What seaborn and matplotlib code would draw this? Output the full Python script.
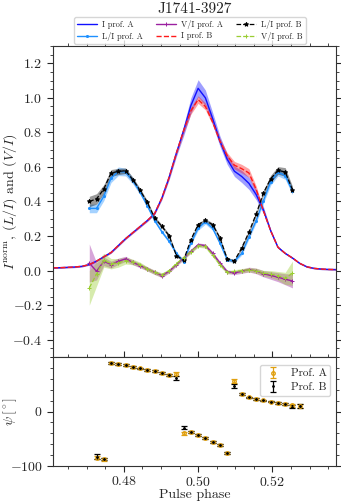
import numpy as np
import pandas as pd
import matplotlib
matplotlib.use("Agg")
import matplotlib.pyplot as plt
import seaborn as sns
from matplotlib.ticker import MultipleLocator, FixedLocator

# ---------------- data ----------------
# phase bins (1/512 of a turn)
bins_I = [236, 237, 238, 239, 240, 241, 242, 243, 244, 245, 246, 247, 248, 249,
          250, 251, 252, 253, 254, 255, 256, 257, 258, 259, 260, 261, 262, 263,
          264, 265, 266, 267, 268, 269, 270, 271, 272, 273, 274, 275]
I_A = [0.016, 0.017, 0.019, 0.021, 0.025, 0.035, 0.055, 0.080, 0.105, 0.145,
       0.185, 0.220, 0.255, 0.290, 0.330, 0.420, 0.540, 0.680, 0.810, 0.955,
       1.055, 1.000, 0.880, 0.750, 0.645, 0.575, 0.545, 0.505, 0.440, 0.350,
       0.230, 0.135, 0.100, 0.073, 0.042, 0.022, 0.013, 0.009, 0.007, 0.006]
I_A_err = [0.004, 0.004, 0.004, 0.004, 0.004, 0.004, 0.004, 0.004, 0.005, 0.005,
           0.005, 0.005, 0.006, 0.006, 0.007, 0.010, 0.015, 0.020, 0.030, 0.045,
           0.050, 0.045, 0.035, 0.030, 0.030, 0.030, 0.035, 0.035, 0.030, 0.020,
           0.010, 0.006, 0.005, 0.005, 0.004, 0.004, 0.004, 0.004, 0.004, 0.004]
I_B = [0.016, 0.017, 0.019, 0.021, 0.025, 0.035, 0.055, 0.080, 0.105, 0.145,
       0.185, 0.220, 0.255, 0.290, 0.330, 0.420, 0.540, 0.680, 0.810, 0.925,
       0.990, 0.950, 0.860, 0.750, 0.665, 0.610, 0.590, 0.565, 0.470, 0.345,
       0.230, 0.135, 0.100, 0.073, 0.042, 0.022, 0.013, 0.009, 0.007, 0.006]
I_B_err = [0.003, 0.003, 0.003, 0.003, 0.003, 0.003, 0.003, 0.003, 0.004, 0.004,
           0.004, 0.004, 0.004, 0.005, 0.005, 0.007, 0.010, 0.012, 0.015, 0.020,
           0.022, 0.020, 0.018, 0.016, 0.018, 0.022, 0.025, 0.025, 0.020, 0.012,
           0.007, 0.005, 0.004, 0.004, 0.003, 0.003, 0.003, 0.003, 0.003, 0.003]

bins_pol = [241, 242, 243, 244, 245, 246, 247, 248, 249, 250, 251, 252, 253, 254,
            255, 256, 257, 258, 259, 260, 261, 262, 263, 264, 265, 266, 267, 268, 269]
L_A = [0.360, 0.360, 0.430, 0.535, 0.575, 0.570, 0.520, 0.455, 0.375, 0.290,
       0.225, 0.170, 0.100, 0.052, 0.160, 0.245, 0.283, 0.245, 0.160, 0.064,
       0.055, 0.100, 0.195, 0.290, 0.405, 0.515, 0.570, 0.550, 0.460]
L_A_err = [0.025, 0.025, 0.025, 0.025, 0.025, 0.022, 0.018, 0.015, 0.012, 0.010,
           0.010, 0.010, 0.010, 0.010, 0.010, 0.012, 0.014, 0.012, 0.010, 0.010,
           0.010, 0.010, 0.012, 0.014, 0.016, 0.020, 0.022, 0.022, 0.020]
L_B = [0.400, 0.415, 0.472, 0.565, 0.574, 0.578, 0.526, 0.464, 0.395, 0.305,
       0.256, 0.202, 0.087, 0.060, 0.179, 0.266, 0.291, 0.266, 0.189, 0.068,
       0.056, 0.131, 0.222, 0.328, 0.449, 0.532, 0.580, 0.571, 0.468]
L_B_err = [0.030, 0.030, 0.025, 0.020, 0.018, 0.016, 0.014, 0.012, 0.010, 0.010,
           0.010, 0.010, 0.008, 0.008, 0.008, 0.010, 0.010, 0.010, 0.008, 0.008,
           0.008, 0.010, 0.010, 0.012, 0.015, 0.020, 0.022, 0.025, 0.020]
V_A = [0.044, -0.004, 0.054, 0.035, 0.054, 0.068, 0.048, 0.029, 0.010, -0.010,
       -0.029, -0.004, 0.035, 0.073, 0.112, 0.150, 0.145, 0.100, 0.044, -0.006,
       -0.013, -0.004, 0.006, -0.002, -0.018, -0.028, -0.038, -0.050, -0.060]
V_A_err = [0.110, 0.050, 0.025, 0.020, 0.018, 0.015, 0.014, 0.013, 0.012, 0.012,
           0.012, 0.010, 0.010, 0.010, 0.010, 0.010, 0.010, 0.010, 0.010, 0.010,
           0.010, 0.012, 0.014, 0.016, 0.018, 0.022, 0.026, 0.032, 0.040]
V_B = [-0.100, -0.020, 0.060, 0.040, 0.045, 0.058, 0.050, 0.035, 0.010, -0.010,
       -0.025, 0.000, 0.040, 0.075, 0.110, 0.145, 0.140, 0.090, 0.035, -0.010,
       -0.005, 0.000, 0.005, 0.000, -0.015, -0.020, -0.030, -0.045, -0.015]
V_B_err = [0.100, 0.070, 0.040, 0.030, 0.025, 0.020, 0.016, 0.014, 0.012, 0.012,
           0.012, 0.010, 0.010, 0.010, 0.010, 0.010, 0.010, 0.010, 0.010, 0.010,
           0.010, 0.012, 0.012, 0.014, 0.016, 0.020, 0.025, 0.035, 0.070]

bins_pa = [242, 243, 244, 245, 246, 247, 248, 249, 250, 251, 252, 253, 254, 255,
           256, 257, 258, 259, 260, 261, 262, 263, 264, 265, 266, 267, 268, 269, 270]
PA_A = [-85, -88, 89.6, 87, 85.2, 82.2, 79, 76, 74.7, 71, 66.7, 69,
        -40, -37.6, -43.8, -49.3, -56, -61.7, -75.9,
        56, 32.2, 26, 23, 20.4, 18.3, 15.5, 14.5, 11.5, 10]
PA_A_err = [3, 2, 2, 1.5, 1.5, 1.5, 1.5, 1.5, 1.5, 1.5, 2, 3,
            3, 2, 2, 2, 2, 2, 2.5,
            4, 2, 1.5, 1.5, 1.5, 1.5, 1.5, 2, 2.5, 3]
PA_B = [-83, -87, 89.6, 87, 85.2, 82.2, 79, 76, 74.7, 71, 66.7, 62,
        -29.6, -37.6, -43.8, -49.3, -56, -61.7, -75.9,
        46.3, 32.2, 26, 23, 20.4, 18.3, 15.5, 14.5, 9, 10]
PA_B_err = [5, 2.5, 2, 1.5, 1.5, 1.5, 1.5, 1.5, 1.5, 1.5, 2, 3.5,
            3, 2, 2, 2, 2, 2, 2.5,
            3.5, 2, 1.5, 1.5, 1.5, 1.5, 1.5, 2, 3, 3]

NBIN = 512
ph_I = np.array(bins_I) / NBIN
ph_pol = np.array(bins_pol) / NBIN
ph_pa = np.array(bins_pa) / NBIN

# ---------------- style ----------------
sns.set_style("ticks")
plt.rcParams.update({
    "font.family": ["cmr10", "DejaVu Serif"],
    "mathtext.fontset": "cm",
    "axes.formatter.use_mathtext": True,
    "font.size": 10,
    "axes.linewidth": 0.8,
    "axes.edgecolor": "#333333",
    "xtick.direction": "out",
    "ytick.direction": "out",
    "xtick.top": True,
    "ytick.right": True,
    "xtick.major.size": 4,
    "ytick.major.size": 4,
    "xtick.minor.size": 2,
    "ytick.minor.size": 2,
    "xtick.major.pad": 2.5,
    "xtick.minor.visible": True,
    "ytick.minor.visible": True,
})

fig = plt.figure(figsize=(3.41, 5.01), dpi=100)
L, W = 53 / 341, (336 - 53) / 341
ax1 = fig.add_axes([L, 1 - 357 / 501, W, (357 - 46) / 501])
ax2 = fig.add_axes([L, 1 - 466 / 501, W, (466 - 357) / 501], sharex=ax1)

series = [
    ("I prof. A", ph_I, I_A, I_A_err, "#1010ff", "-", None, 1.0, 0),
    ("L/I prof. A", ph_pol, L_A, L_A_err, "#1e90ff", "-", ".", 1.0, 3),
    ("V/I prof. A", ph_pol, V_A, V_A_err, "#9b1fa0", "-", "+", 1.0, 2.5),
    ("I prof. B", ph_I, I_B, I_B_err, "#ff1a1a", "--", None, 1.0, 0),
    ("L/I prof. B", ph_pol, L_B, L_B_err, "black", "--", "*", 0.9, 3.2),
    ("V/I prof. B", ph_pol, V_B, V_B_err, "#9acd32", "--", "+", 0.9, 2.5),
]
for lab, x, y, e, c, ls, mk, lw, ms in series:
    y = np.array(y); e = np.array(e)
    ax1.fill_between(x, y - e, y + e, color=c, alpha=0.4, lw=0)
    df = pd.DataFrame({"phase": x, "val": y})
    sns.lineplot(data=df, x="phase", y="val", ax=ax1, color=c, linestyle=ls,
                 marker=mk, markersize=ms, mec=c, mew=0.7,
                 lw=lw, label=lab)

handles, labels = ax1.get_legend_handles_labels()
ax1.get_legend().remove()
fig.legend(handles, labels, ncol=3, loc="upper center",
           bbox_to_anchor=(0.557, 0.974), fontsize=6.0, frameon=True,
           handlelength=2.4, columnspacing=1.6, labelspacing=0.35,
           borderpad=0.35, handletextpad=0.6, edgecolor="#cccccc", fancybox=True)
fig.text(0.57, 0.981, "J1741-3927", ha="center", va="center", fontsize=11)

ax1.set_xlim(236 / NBIN, 275 / NBIN)
ax1.set_ylim(-0.5, 1.3)
ax1.yaxis.set_major_locator(FixedLocator([-0.4, -0.2, 0.0, 0.2, 0.4, 0.6, 0.8, 1.0, 1.2]))
ax1.yaxis.set_minor_locator(MultipleLocator(0.05))
ax1.set_ylabel(r"$I^{\rm norm}$, $(L/I)$ and $(V/I)$", fontsize=10)
ax1.set_xlabel("")
plt.setp(ax1.get_xticklabels(), visible=False)

ax2.errorbar(ph_pa, PA_A, yerr=PA_A_err, fmt="o", ms=2.5, mfc="none",
             color="#e0a010", mec="#e0a010", ecolor="#e0a010", elinewidth=0.9,
             capsize=2.4, capthick=0.9, label="Prof. A")
ax2.errorbar(ph_pa, PA_B, yerr=PA_B_err, fmt=".", ms=2, color="black",
             elinewidth=0.9, capsize=2.4, capthick=0.9, label="Prof. B")
ax2.set_ylim(-100, 100)
ax2.yaxis.set_major_locator(FixedLocator([-100, 0]))
ax2.yaxis.set_minor_locator(MultipleLocator(20))
ax2.xaxis.set_major_locator(FixedLocator([0.48, 0.50, 0.52]))
ax2.xaxis.set_minor_locator(MultipleLocator(0.005))
ax2.set_xlabel("Pulse phase", fontsize=10, labelpad=0)
ax2.set_ylabel(r"$\psi\,[^\circ]$", fontsize=10)
ax2.legend(loc="upper right", fontsize=8, frameon=True, edgecolor="#cccccc",
           handlelength=1.6, borderpad=0.35, labelspacing=0.35,
           bbox_to_anchor=(1.0, 0.98))
ax1.yaxis.set_label_coords(-0.12, 0.5)
ax2.yaxis.set_label_coords(-0.12, 0.5)

fig.savefig("out.png", dpi=100)
